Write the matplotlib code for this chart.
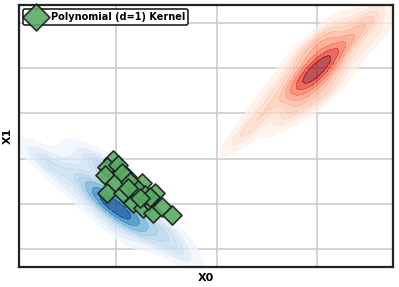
import numpy as np
import matplotlib
matplotlib.use("Agg")
import matplotlib.pyplot as plt
import seaborn as sns

# class 0 samples (blue blob, lower left)
blue_x = [-0.15, 0.0, -0.3, 0.2, -0.5, 0.1, -0.2, 0.4, -0.6, 0.3, -0.1, 0.6,
          -0.7, -0.3, 0.1, 0.5, -0.2,
          -0.3, 0.2, -0.1, 0.3, -0.6, 0.5,
          -0.8, 0.0, -1.6, 0.6,
          -1.2, -1.0, -1.4, -1.1, -1.3,
          -2.3, -2.0, -2.5, -2.2,
          -3.3, -3.6, -3.1, -4.2,
          1.2, 1.0, 1.4, 1.1, 1.3,
          2.3, 2.1, 2.5, 2.2,
          3.2, 3.0, 3.3]
blue_y = [1.95, 1.7, 2.2, 1.6, 2.0, 2.3, 1.5, 1.9, 2.5, 1.3, 2.6, 1.5,
          2.3, 2.05, 1.8, 1.55, 1.95,
          3.3, 2.9, 0.9, 0.7, 3.6, 2.6,
          3.9, 3.6, 4.2, 3.0,
          2.6, 3.4, 1.9, 2.1, 3.0,
          3.3, 3.9, 2.8, 3.6,
          3.8, 4.2, 3.4, 4.2,
          1.1, 1.8, 0.5, 0.8, 1.5,
          0.5, 1.2, 0.0, 0.8,
          0.1, 0.7, -0.3]

# class 1 samples (red blob, upper right)
red_x = [10.0, 10.2, 9.8, 10.4, 9.6, 10.1, 9.9, 10.5, 9.5, 10.3, 9.7, 10.0,
         9.4, 9.8, 10.2, 10.6, 9.9,
         9.6, 10.4, 10.2, 9.9,
         9.0, 11.0, 10.5, 8.6,
         9.0, 8.8, 9.2, 9.1,
         8.0, 7.8, 8.2,
         7.0, 7.2, 6.6, 6.0,
         11.0, 10.8, 11.2, 11.1,
         12.0, 11.8, 12.3, 12.2,
         13.0, 12.7, 13.2]
red_y = [7.9, 8.3, 7.5, 8.0, 7.7, 7.4, 8.4, 8.6, 7.1, 7.6, 8.1, 8.8,
         7.45, 7.75, 8.05, 8.35, 7.9,
         8.9, 9.3, 6.8, 6.5,
         8.6, 7.3, 9.8, 5.8,
         7.2, 7.9, 6.5, 7.6,
         6.5, 7.1, 5.9,
         5.7, 6.3, 5.1, 4.9,
         8.6, 9.4, 8.0, 9.0,
         9.4, 10.1, 8.9, 9.8,
         10.2, 10.5, 9.7]

# polynomial (d=1) kernel projections
poly_x = [-0.15, -0.45, -0.55, 0.10, -0.05, -0.45, 0.35, 0.55, 1.29, 0.85, 1.34, 1.94,
          1.84, 2.29, 2.79, 1.59, 1.04, 0.30, 0.70, 1.09, 1.44, 1.69, 1.19, 0.60]
poly_y = [3.94, 3.63, 3.27, 3.72, 2.92, 2.48, 2.48, 3.19, 2.92, 2.04, 1.81, 2.48,
          1.59, 1.86, 1.50, 2.17, 2.48, 3.36, 2.96, 2.61, 2.39, 2.30, 2.26, 2.70]

fig = plt.figure(figsize=(3.99, 2.87), dpi=100)
ax = fig.add_axes([0.0476, 0.0697, 0.9374, 0.9129])

sns.kdeplot(x=blue_x, y=blue_y, fill=True, cmap="Blues", alpha=0.8, bw_adjust=0.9, ax=ax)
sns.kdeplot(x=red_x, y=red_y, fill=True, cmap="Reds", alpha=0.7, bw_adjust=0.9, ax=ax)

ax.scatter(poly_x, poly_y, marker="D", s=95, c="#5aac64", edgecolors="#1a1a1a",
           linewidths=1.2, alpha=0.9, zorder=5, label="Polynomial (d=1) Kernel")

ax.set_xlim(-4.83, 13.78)
ax.set_ylim(-0.8, 10.8)
ax.set_xticks([0, 5, 10])
ax.set_yticks([0, 2, 4, 6, 8, 10])
ax.set_xticklabels([])
ax.set_yticklabels([])
ax.tick_params(length=0)
ax.grid(True, color="#cccccc", lw=1.2)
ax.set_axisbelow(True)
for sp in ax.spines.values():
    sp.set_color("#222222")
    sp.set_linewidth(1.6)

ax.set_xlabel("X0", fontsize=8, fontweight="bold", labelpad=1)
ax.set_ylabel("X1", fontsize=8, fontweight="bold", labelpad=1)

leg = ax.legend(loc="upper left", prop={"weight": "bold", "size": 7},
                markerscale=1.4, frameon=True, framealpha=1, borderpad=0.3,
                handletextpad=0.6, borderaxespad=0.4)
leg.get_frame().set_edgecolor("#222222")
leg.get_frame().set_linewidth(1.2)

fig.savefig("out.png", dpi=100)
